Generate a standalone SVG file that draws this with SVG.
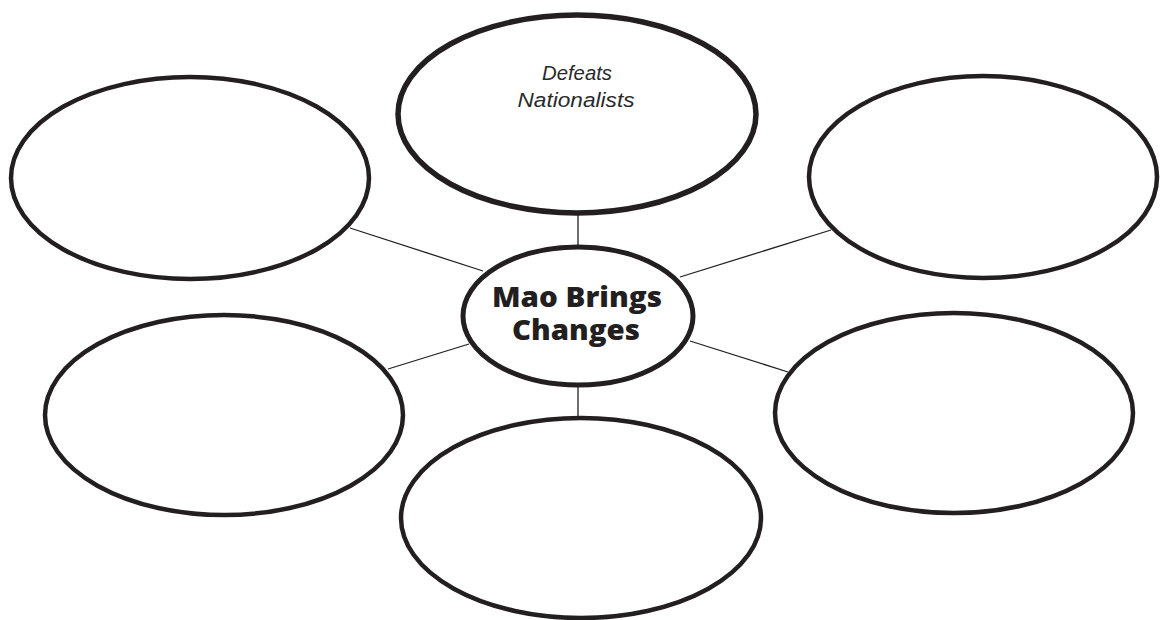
<svg xmlns="http://www.w3.org/2000/svg" width="1160" height="620" viewBox="0 0 1160 620">
  <style>
    .bubble { fill: #ffffff; stroke: #231f20; stroke-width: 4.5; }
    .hub { fill: #ffffff; stroke: #231f20; stroke-width: 5; }
    .conn { stroke: #231f20; stroke-width: 1.3; fill: none; }
    .title { font-family: "Open Sans", "Noto Sans", sans-serif; font-weight: 800; font-size: 28px; fill: #231f20; text-anchor: middle; }
    .hand { font-family: "Liberation Sans", "DejaVu Sans", sans-serif; font-style: italic; font-size: 20px; fill: #2a2a2a; text-anchor: middle; }
  </style>
  <rect x="0" y="0" width="1160" height="620" fill="#ffffff"/>
  <g id="connectors">
    <line class="conn" x1="578" y1="214" x2="578" y2="246"/>
    <line class="conn" x1="350" y1="228" x2="483" y2="271"/>
    <line class="conn" x1="680" y1="277" x2="831" y2="230"/>
    <line class="conn" x1="388" y1="369" x2="469" y2="344"/>
    <line class="conn" x1="690" y1="341" x2="788" y2="372"/>
    <line class="conn" x1="578" y1="386" x2="578" y2="418"/>
  </g>
  <g id="node-top">
    <ellipse class="bubble" cx="577" cy="114" rx="179" ry="99" style="stroke-width:5.5"/>
    <text class="hand" x="577" y="80" textLength="70" lengthAdjust="spacingAndGlyphs">Defeats</text>
    <text class="hand" x="576" y="107" textLength="117" lengthAdjust="spacingAndGlyphs">Nationalists</text>
  </g>
  <g id="node-top-left">
    <ellipse class="bubble" cx="190" cy="178" rx="179" ry="101"/>
  </g>
  <g id="node-top-right">
    <ellipse class="bubble" cx="983" cy="177" rx="174" ry="101"/>
  </g>
  <g id="node-bottom-left">
    <ellipse class="bubble" cx="224" cy="415" rx="179" ry="100"/>
  </g>
  <g id="node-bottom-right">
    <ellipse class="bubble" cx="954" cy="413" rx="179" ry="100"/>
  </g>
  <g id="node-bottom">
    <ellipse class="bubble" cx="581" cy="518" rx="180" ry="100"/>
  </g>
  <g id="node-center">
    <ellipse class="hub" cx="578" cy="316" rx="115" ry="69"/>
    <text class="title" x="577" y="307" textLength="170" lengthAdjust="spacingAndGlyphs">Mao Brings</text>
    <text class="title" x="576" y="340" textLength="128" lengthAdjust="spacingAndGlyphs">Changes</text>
  </g>
</svg>
